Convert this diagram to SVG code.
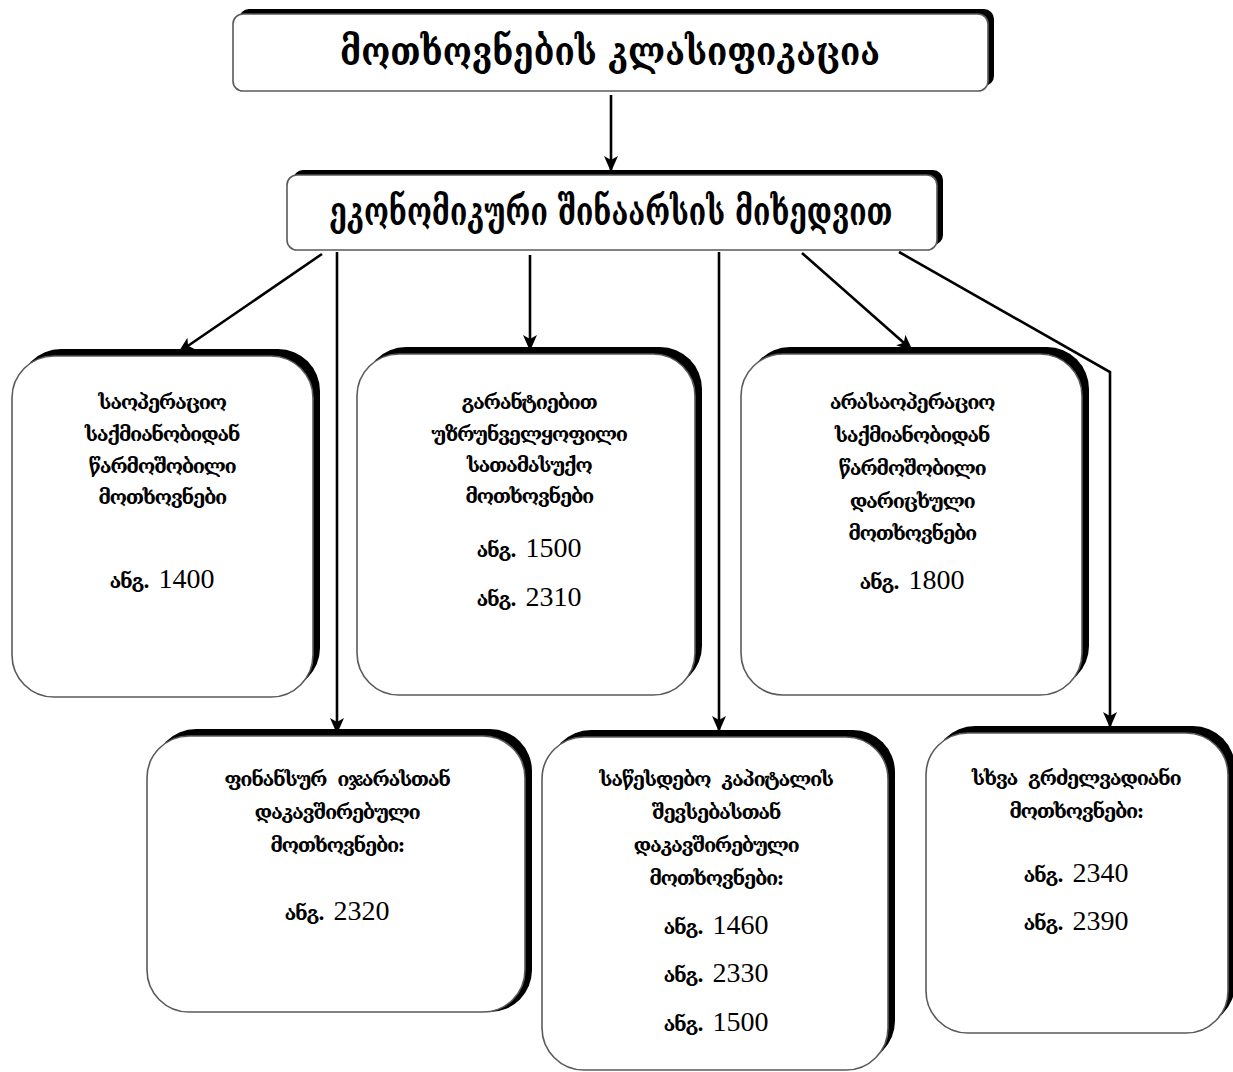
<svg xmlns="http://www.w3.org/2000/svg" width="1233" height="1072" viewBox="0 0 1233 1072">
<defs>
<style>
.sh{fill:#000}
.bx{fill:#fff;stroke:#5a5a5a;stroke-width:1.6}
.ttl{font-family:"DejaVu Serif Condensed","DejaVu Sans",sans-serif;font-weight:bold;font-size:40px;text-anchor:middle;fill:#000}
.g{font-family:"DejaVu Serif","DejaVu Sans",serif;font-weight:bold;font-size:20px;letter-spacing:-1.4px;text-anchor:middle;fill:#000}
.n{font-family:"Liberation Serif",serif;font-weight:normal;font-size:28px;letter-spacing:0}
.c{fill:none;stroke:#000;stroke-width:2.6}
</style>
<marker id="ah" viewBox="0 0 16 14" refX="15" refY="7" markerWidth="16" markerHeight="14" markerUnits="userSpaceOnUse" orient="auto">
<path d="M0,0 L16,7 L0,14 L4,7 Z" fill="#000"/>
</marker>
</defs>
<rect width="1233" height="1072" fill="#fff"/>

<g id="connectors">
<line class="c" x1="611" y1="95" x2="611" y2="171" marker-end="url(#ah)"/>
<line class="c" x1="322" y1="254" x2="179" y2="352" marker-end="url(#ah)"/>
<line class="c" x1="337" y1="252" x2="337" y2="733" marker-end="url(#ah)"/>
<line class="c" x1="530" y1="255" x2="530" y2="350" marker-end="url(#ah)"/>
<line class="c" x1="719" y1="252" x2="719" y2="731" marker-end="url(#ah)"/>
<line class="c" x1="802" y1="253" x2="912" y2="350" marker-end="url(#ah)"/>
<polyline class="c" points="899,252 1110,372 1110,727" marker-end="url(#ah)"/>
</g>

<g id="n-title">
<rect class="sh" x="239" y="9" width="755" height="77" rx="10"/>
<rect class="bx" x="233" y="14" width="755" height="77" rx="10"/>
<text class="ttl" x="610" y="65" textLength="540" lengthAdjust="spacingAndGlyphs">მოთხოვნების კლასიფიკაცია</text>
</g>

<g id="n-econ">
<rect class="sh" x="293" y="170" width="650" height="75" rx="10"/>
<rect class="bx" x="287" y="175" width="650" height="75" rx="10"/>
<text class="ttl" x="611" y="225" textLength="563" lengthAdjust="spacingAndGlyphs">ეკონომიკური შინაარსის მიხედვით</text>
</g>

<g id="n-op">
<rect class="sh" x="19" y="349" width="301" height="341" rx="42"/>
<rect class="bx" x="12" y="356" width="301" height="341" rx="42"/>
<text class="g" x="162" y="409">საოპერაციო</text>
<text class="g" x="162" y="441">საქმიანობიდან</text>
<text class="g" x="162" y="473">წარმოშობილი</text>
<text class="g" x="162" y="504">მოთხოვნები</text>
<text class="g" x="162" y="588">ანგ.<tspan class="n" dx="10">1400</tspan></text>
</g>

<g id="n-guar">
<rect class="sh" x="364" y="347" width="338" height="341" rx="42"/>
<rect class="bx" x="357" y="354" width="338" height="341" rx="42"/>
<text class="g" x="529" y="409">გარანტიებით</text>
<text class="g" x="529" y="441">უზრუნველყოფილი</text>
<text class="g" x="529" y="472">სათამასუქო</text>
<text class="g" x="529" y="503">მოთხოვნები</text>
<text class="g" x="529" y="557">ანგ.<tspan class="n" dx="10">1500</tspan></text>
<text class="g" x="529" y="606">ანგ.<tspan class="n" dx="10">2310</tspan></text>
</g>

<g id="n-nonop">
<rect class="sh" x="748" y="347" width="341" height="341" rx="42"/>
<rect class="bx" x="741" y="354" width="341" height="341" rx="42"/>
<text class="g" x="912" y="409">არასაოპერაციო</text>
<text class="g" x="912" y="442">საქმიანობიდან</text>
<text class="g" x="912" y="475">წარმოშობილი</text>
<text class="g" x="912" y="508">დარიცხული</text>
<text class="g" x="912" y="540">მოთხოვნები</text>
<text class="g" x="912" y="589">ანგ.<tspan class="n" dx="10">1800</tspan></text>
</g>

<g id="n-lease">
<rect class="sh" x="154" y="729" width="378" height="283" rx="42"/>
<rect class="bx" x="147" y="736" width="378" height="276" rx="42"/>
<text class="g" x="337" y="786" xml:space="preserve">ფინანსურ  იჯარასთან</text>
<text class="g" x="337" y="819">დაკავშირებული</text>
<text class="g" x="337" y="852">მოთხოვნები:</text>
<text class="g" x="337" y="920">ანგ.<tspan class="n" dx="10">2320</tspan></text>
</g>

<g id="n-capital">
<rect class="sh" x="549" y="730" width="346" height="333" rx="42"/>
<rect class="bx" x="542" y="737" width="346" height="333" rx="42"/>
<text class="g" x="716" y="786" xml:space="preserve">საწესდებო  კაპიტალის</text>
<text class="g" x="716" y="819">შევსებასთან</text>
<text class="g" x="716" y="852">დაკავშირებული</text>
<text class="g" x="716" y="885">მოთხოვნები:</text>
<text class="g" x="716" y="934">ანგ.<tspan class="n" dx="10">1460</tspan></text>
<text class="g" x="716" y="982">ანგ.<tspan class="n" dx="10">2330</tspan></text>
<text class="g" x="716" y="1031">ანგ.<tspan class="n" dx="10">1500</tspan></text>
</g>

<g id="n-other">
<rect class="sh" x="933" y="726" width="302" height="300" rx="42"/>
<rect class="bx" x="926" y="733" width="302" height="300" rx="42"/>
<text class="g" x="1076" y="785" xml:space="preserve">სხვა  გრძელვადიანი</text>
<text class="g" x="1076" y="818">მოთხოვნები:</text>
<text class="g" x="1076" y="882">ანგ.<tspan class="n" dx="10">2340</tspan></text>
<text class="g" x="1076" y="930">ანგ.<tspan class="n" dx="10">2390</tspan></text>
</g>
</svg>
